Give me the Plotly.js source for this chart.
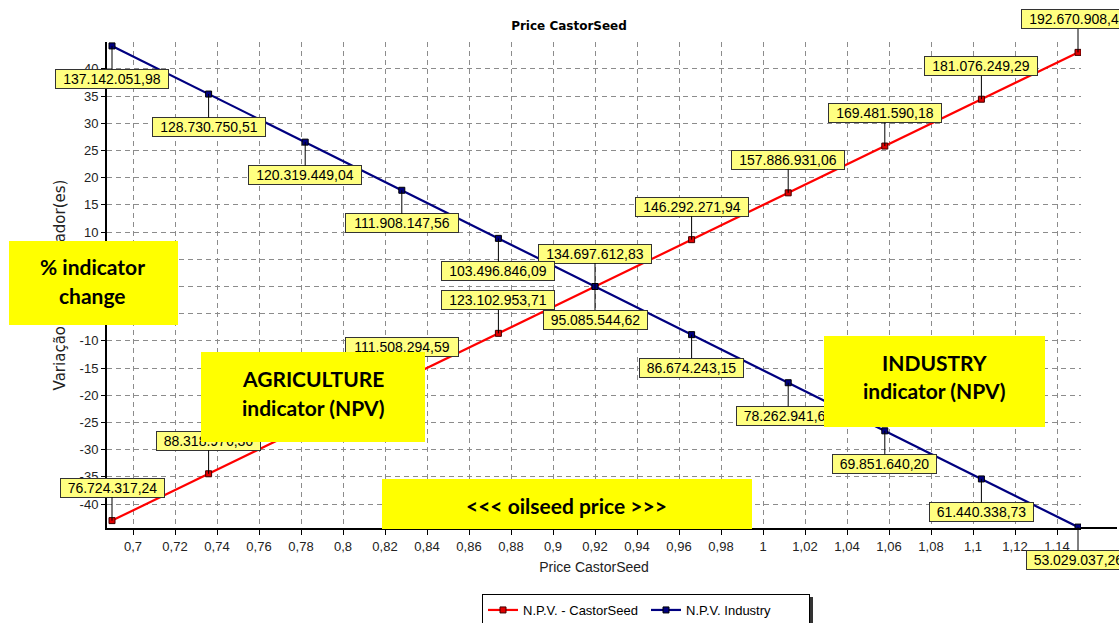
<!DOCTYPE html>
<html><head><meta charset="utf-8">
<script src="https://cdn.plot.ly/plotly-3.0.1.min.js"></script>
<style>html,body{margin:0;padding:0;background:#fff}#chart{width:1119px;height:623px}</style>
</head><body><div id="chart"></div>
<script>
// ---- data ----
const priceCastorSeed = [0.69, 0.736, 0.782, 0.828, 0.874, 0.92, 0.966, 1.012, 1.058, 1.104, 1.15];
const pctCastorSeed = [-43.04, -34.43, -25.82, -17.22, -8.61, 0, 8.61, 17.22, 25.82, 34.43, 43.04];
const pctIndustry   = [44.23, 35.38, 26.54, 17.69, 8.85, 0, -8.85, -17.69, -26.54, -35.38, -44.23];
const npvCastorSeedLabels = ['76.724.317,24','88.318.976,36','99.913.635,48','111.508.294,59','123.102.953,71',
  '134.697.612,83','146.292.271,94','157.886.931,06','169.481.590,18','181.076.249,29','192.670.908,41'];
const npvIndustryLabels = ['137.142.051,98','128.730.750,51','120.319.449,04','111.908.147,56','103.496.846,09',
  '95.085.544,62','86.674.243,15','78.262.941,68','69.851.640,20','61.440.338,73','53.029.037,26'];
const xTickVals = [0.7,0.72,0.74,0.76,0.78,0.8,0.82,0.84,0.86,0.88,0.9,0.92,0.94,0.96,0.98,1,1.02,1.04,1.06,1.08,1.1,1.12,1.14];
const xTickText = ['0,7','0,72','0,74','0,76','0,78','0,8','0,82','0,84','0,86','0,88','0,9','0,92','0,94','0,96','0,98','1','1,02','1,04','1,06','1,08','1,1','1,12','1,14'];
const yTickVals = [-40,-35,-30,-25,-20,-15,-10,-5,0,5,10,15,20,25,30,35,40];
const yTickText = ['-40','-35','-30','-25','-20','-15','-10','-5','0','5','10','15','20','25','30','35','40'];
const seriesNames = ['N.P.V. - CastorSeed', 'N.P.V. Industry'];
const boxLines = [['% indicator', 'change'], ['AGRICULTURE', 'indicator (NPV)'], ['INDUSTRY', 'indicator (NPV)'], ['&lt;&lt;&lt; oilseed price &gt;&gt;&gt;']];

// ---- layout geometry (pixels) ----
const W = 1119, H = 623, L = 107, R = 1081, T = 42, B = 528;
const fx = px => (px - L) / (R - L);
const fy = py => (B - py) / (B - T);

const traces = [
  {x: priceCastorSeed, y: pctCastorSeed, name: seriesNames[0], type: 'scatter', mode: 'lines+markers',
   line: {color: '#ff0000', width: 2.2},
   marker: {symbol: 'square', size: 6, color: '#e00000', line: {color: '#400000', width: 1}}},
  {x: priceCastorSeed, y: pctIndustry, name: seriesNames[1], type: 'scatter', mode: 'lines+markers',
   line: {color: '#000080', width: 2.2},
   marker: {symbol: 'square', size: 6, color: '#000080', line: {color: '#000000', width: 1}}}
];

function labelAnn(x, y, text, ay) {
  return {x: x, y: y, xref: 'x', yref: 'y', text: text, showarrow: true, arrowhead: 0,
    arrowwidth: 1, arrowcolor: '#000', ax: 0, ay: ay, standoff: 0,
    bgcolor: '#ffff80', bordercolor: '#333', borderwidth: 1, borderpad: 1,
    width: text.length >= 14 ? 110 : 101, height: 16,
    font: {family: 'Liberation Sans, Arial, sans-serif', size: 14, color: '#000'}};
}
const annotations = [];
priceCastorSeed.forEach((p, i) => annotations.push(labelAnn(p, pctCastorSeed[i], npvCastorSeedLabels[i], -33)));
priceCastorSeed.forEach((p, i) => annotations.push(labelAnn(p, pctIndustry[i], npvIndustryLabels[i], 33)));

// yellow call-out boxes: [x0, y0, x1, y1] and text line centres [cx, [cy...]]
const boxes = [[9, 241, 178, 325], [201, 352, 425, 442], [824, 336, 1045, 427], [382, 479, 752, 529]];
const boxTextPos = [[92, [266, 295]], [313, [378, 407]], [934, [362, 390]], [566, [505]]];
boxes.forEach((b, i) => {
  annotations.push({
    xref: 'paper', yref: 'paper', x: fx((b[0] + b[2]) / 2), y: fy((b[1] + b[3]) / 2),
    xanchor: 'center', yanchor: 'middle', width: b[2] - b[0], height: b[3] - b[1],
    bgcolor: '#ffff00', borderpad: 0, borderwidth: 0, showarrow: false, text: '&nbsp;',
    font: {size: 10, color: '#ffff00'}});
  boxLines[i].forEach((t, j) => annotations.push({
    xref: 'paper', yref: 'paper', x: fx(boxTextPos[i][0]), y: fy(boxTextPos[i][1][j]),
    xanchor: 'center', yanchor: 'middle', showarrow: false, borderpad: 0,
    text: '<b>' + t + '</b>', font: {family: 'Lato, Open Sans, sans-serif', size: 21, color: '#000'}}));
});

const layout = {
  width: W, height: H, paper_bgcolor: '#fff', plot_bgcolor: '#fff',
  margin: {l: L, r: W - R, t: T, b: H - B, pad: 0, autoexpand: false},
  title: {text: '<b>Price CastorSeed</b>', x: 569 / W, xref: 'container', xanchor: 'center',
          y: 1 - 26 / H, yref: 'container', yanchor: 'middle',
          font: {family: 'DejaVu Sans, sans-serif', size: 12, color: '#000'}},
  xaxis: {range: [0.68762, 1.15143], tickmode: 'array', tickvals: xTickVals, ticktext: xTickText,
          showgrid: true, gridcolor: '#8c8c8c', gridwidth: 1, griddash: '5px,4px',
          showline: true, linecolor: '#000', linewidth: 2, zeroline: false, automargin: false,
          ticks: 'outside', ticklen: 5, tickcolor: '#000', tickwidth: 1,
          tickfont: {family: 'Liberation Sans, Arial, sans-serif', size: 13, color: '#222'},
          title: {text: 'Price CastorSeed', font: {family: 'Liberation Sans, Arial, sans-serif', size: 14, color: '#222'}, standoff: 10}},
  yaxis: {range: [-44.4, 44.95], tickmode: 'array', tickvals: yTickVals, ticktext: yTickText,
          showgrid: true, gridcolor: '#8c8c8c', gridwidth: 1, griddash: '5px,4px',
          showline: true, linecolor: '#000', linewidth: 2, zeroline: false, automargin: false,
          ticks: 'outside', ticklen: 4, tickcolor: '#000', tickwidth: 1,
          tickfont: {family: 'Liberation Sans, Arial, sans-serif', size: 13, color: '#222'},
          title: {text: 'Variação do(s) Indicador(es)', font: {family: 'DejaVu Sans, sans-serif', size: 15, color: '#222'}, standoff: 10}},
  showlegend: true,
  legend: {orientation: 'h', x: fx(482), y: fy(594), xanchor: 'left', yanchor: 'top',
           bgcolor: '#fff', bordercolor: '#000', borderwidth: 1, entrywidth: 118, entrywidthmode: 'pixels',
           font: {family: 'Liberation Sans, Arial, sans-serif', size: 13, color: '#000'}},
  shapes: [
    {type: 'line', xref: 'paper', yref: 'paper', x0: 1, x1: fx(1117), y0: 0, y1: 0, line: {color: '#000', width: 2}},
    {type: 'rect', xref: 'paper', yref: 'paper', x0: fx(485), x1: fx(813), y0: fy(597), y1: fy(626), fillcolor: '#333', line: {width: 0}}
  ],
  annotations: annotations
};

Plotly.newPlot('chart', traces, layout, {displayModeBar: false, responsive: false});
</script></body></html>
